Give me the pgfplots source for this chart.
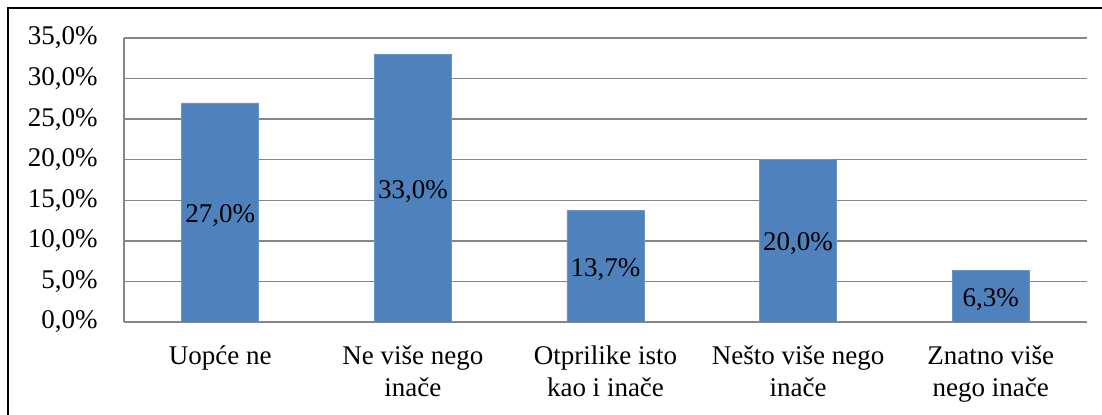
\documentclass[border=0pt]{standalone}
\usepackage{pgfplots}
\pgfplotsset{compat=1.18}
\usepackage{fontspec}
\setmainfont{Liberation Serif}
\definecolor{barblue}{HTML}{4F81BD}
\definecolor{gridgray}{HTML}{868686}
\newcommand{\lblfont}{\fontsize{13.5}{16}\selectfont}

\begin{document}
\begin{tikzpicture}
\useasboundingbox (0,0) rectangle (551pt,207.5pt);
\draw[black,line width=0.7pt] (4pt,0) -- (4pt,203.5pt) -- (551pt,203.5pt);
\begin{axis}[
  at={(62pt,46.5pt)}, anchor=south west,
  scale only axis, width=481.5pt, height=142pt,
  xmin=-0.5, xmax=4.5, ymin=0, ymax=35,
  ytick={0,5,...,35}, xtick=data,
  xticklabels={{\strut Uopće ne},{\strut Ne više nego\\inače},{\strut Otprilike isto\\kao i inače},{\strut Nešto više nego\\inače},{\strut Znatno više\\nego inače}},
  major tick length=0pt,
  ymajorgrids, grid style={gridgray,line width=0.75pt},
  axis x line*=bottom, axis y line*=left,
  axis line style={gridgray,line width=0.75pt,-},
  /pgf/number format/.cd, fixed, fixed zerofill, precision=1, use comma, assume math mode=true,
  /pgfplots/.cd,
  yticklabel={\pgfmathprintnumber{\tick}\%},
  yticklabel style={font=\lblfont, inner sep=0pt, anchor=east, xshift=-13pt},
  xticklabel style={font=\lblfont, inner sep=0pt, anchor=north, align=center, yshift=-10pt},
]
\addplot[ybar, bar width=0.4, fill=barblue, draw=barblue!85!white, line width=0.4pt,
  nodes near coords={\pgfmathprintnumber{\pgfplotspointmeta}\%},
  visualization depends on=y \as \rawy,
  every node near coord/.append style={font=\lblfont, black, anchor=center, inner sep=0pt,
    shift={(axis direction cs:0,-\rawy/2)}, yshift=-1.5pt}]
  coordinates {(0,27.0) (1,33.0) (2,13.7) (3,20.0) (4,6.3)};
\end{axis}
\end{tikzpicture}
\end{document}
